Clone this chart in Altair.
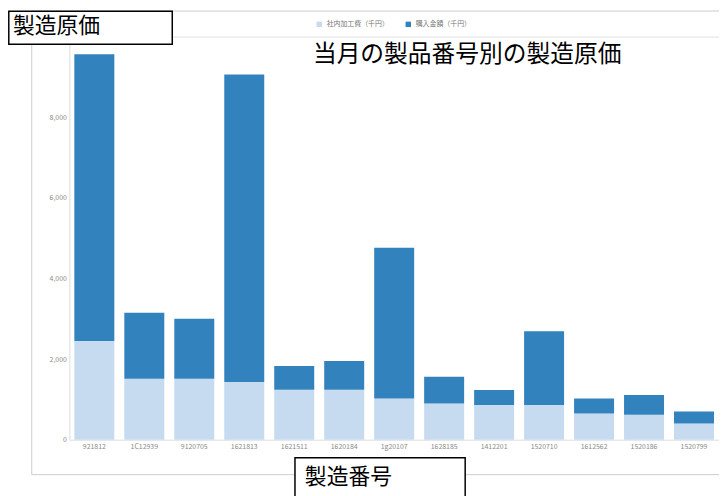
import altair as alt
import pandas as pd

# ---- data ----
products = ["921812", "1C12939", "9120705", "1621813", "1621511", "1620184", "1g20107",
            "1628185", "1412201", "1520710", "1612562", "1520186", "1520799"]
internal_cost = [2450, 1510, 1510, 1430, 1240, 1240, 1020, 900, 860, 860, 650, 620, 400]
total_cost = [9560, 3150, 3000, 9060, 1830, 1950, 4760, 1560, 1230, 2690, 1020, 1110, 700]
purchase_cost = [t - i for t, i in zip(total_cost, internal_cost)]

series = ["社内加工費（千円）", "購入金額（千円）"]
colors = ["#c6dbef", "#3182bd"]
y_ticks = [0, 2000, 4000, 6000, 8000]
y_max = 10000

title_text = "当月の製品番号別の製造原価"
y_label_box = "製造原価"
x_label_box = "製造番号"

rows = []
for p, ic, pc in zip(products, internal_cost, purchase_cost):
    rows.append({"製造番号": p, "系列": series[0], "値": ic, "ord": 0})
    rows.append({"製造番号": p, "系列": series[1], "値": pc, "ord": 1})
df = pd.DataFrame(rows)
one = pd.DataFrame({"a": [0]})

FONT = "Noto Sans CJK JP"

bars = alt.Chart(df).mark_bar().encode(
    x=alt.X("製造番号:N", sort=products, title=None,
            scale=alt.Scale(paddingInner=0.2, paddingOuter=0.1),
            axis=alt.Axis(labelAngle=0, ticks=False, domain=False, labelPadding=3,
                          labelFontSize=7, labelColor="#888888", labelFont=FONT)),
    y=alt.Y("値:Q", stack="zero", title=None,
            scale=alt.Scale(domain=[0, y_max]),
            axis=alt.Axis(values=y_ticks, format=",d",
                          ticks=False, domain=False, labelPadding=3, labelFontSize=7,
                          labelColor="#888888", gridColor="#f2f2f2", labelFont=FONT)),
    color=alt.Color("系列:N", scale=alt.Scale(domain=series, range=colors),
                    legend=alt.Legend(title=None, orient="none", direction="horizontal",
                                      legendX=249, legendY=-16, symbolType="square",
                                      symbolSize=30, labelFontSize=7, labelColor="#777777",
                                      columnPadding=16, labelFont=FONT)),
    order=alt.Order("ord:Q"),
)

top_grid = alt.Chart(one).mark_rule(color="#f2f2f2", strokeWidth=1).encode(
    y=alt.datum(y_max), x=alt.value(0), x2=alt.value(656.5)
)

frame = alt.Chart(one).mark_rect(fill=None, stroke="#cccccc", strokeWidth=1).encode(
    x=alt.value(-38), x2=alt.value(700), y=alt.value(-25.7), y2=alt.value(442.8)
)

title = alt.Chart(one).mark_text(text=title_text, fontSize=24, font=FONT, color="#000000",
                                 align="center", baseline="middle").encode(
    x=alt.value(402), y=alt.value(19)
)

box1 = alt.Chart(one).mark_rect(fill="white", stroke="#000000", strokeWidth=1.5).encode(
    x=alt.value(-61.2), x2=alt.value(104), y=alt.value(-25.4), y2=alt.value(7.8)
)
box1_text = alt.Chart(one).mark_text(text=y_label_box, fontSize=22, font=FONT, color="#000000",
                                     align="left", baseline="middle").encode(
    x=alt.value(-57), y=alt.value(-11)
)

box2 = alt.Chart(one).mark_rect(fill="white", stroke="#000000", strokeWidth=1.5).encode(
    x=alt.value(228), x2=alt.value(400), y=alt.value(425.8), y2=alt.value(480)
)
box2_text = alt.Chart(one).mark_text(text=x_label_box, fontSize=22, font=FONT, color="#000000",
                                     align="left", baseline="middle").encode(
    x=alt.value(238), y=alt.value(445)
)

chart = alt.layer(frame, top_grid, bars, title, box1, box1_text, box2, box2_text).properties(
    width=656.5,
    height=407.5,
    padding={"left": 62, "top": 26.2, "right": 0, "bottom": 54.3},
    autosize=alt.AutoSizeParams(type="none"),
).configure_view(stroke=None).configure(font=FONT)

chart.save("out.html", embed_options={"renderer": "svg", "actions": False})
